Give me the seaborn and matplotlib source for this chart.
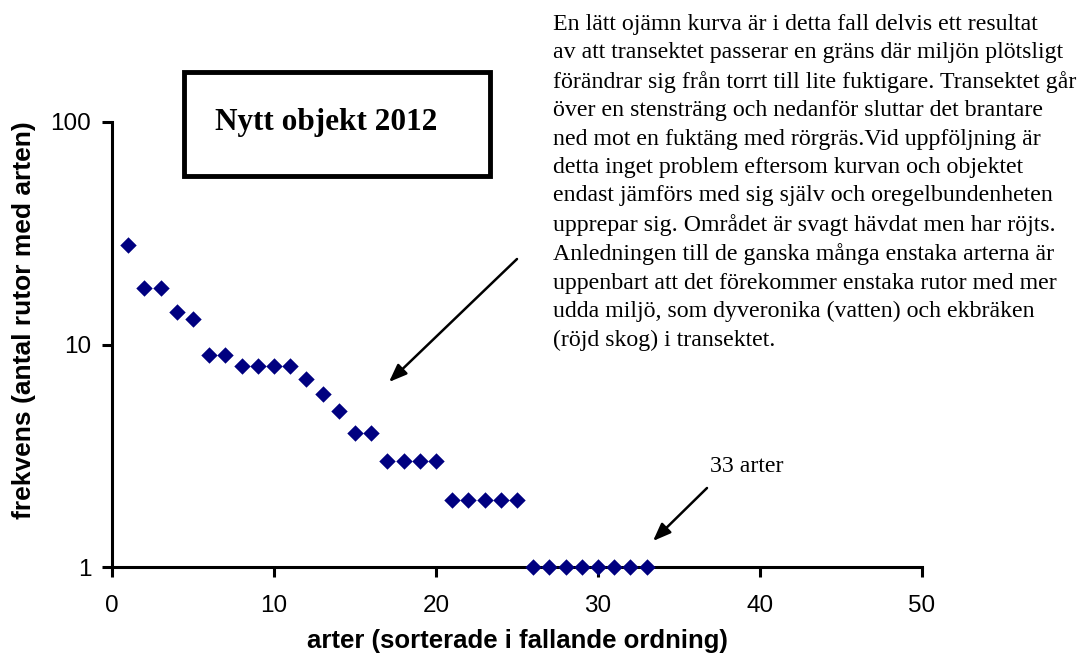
import numpy as np
import pandas as pd
import matplotlib
matplotlib.use("Agg")
import matplotlib.pyplot as plt
import seaborn as sns
from matplotlib.patches import Rectangle

# Frekvens per art, sorterad i fallande ordning
arter = list(range(1, 34))
frekvens = [28, 18, 18, 14, 13, 9, 9, 8, 8, 8, 8, 7, 6, 5, 4, 4,
            3, 3, 3, 3, 2, 2, 2, 2, 2, 1, 1, 1, 1, 1, 1, 1, 1]

x_ticks = [0, 10, 20, 30, 40, 50]
y_ticks = [1, 10, 100]

titel = "Nytt objekt 2012"
kommentar = (
    "En lätt ojämn kurva är i detta fall delvis ett resultat\n"
    "av att transektet passerar en gräns där miljön plötsligt\n"
    "förändrar sig från torrt till lite fuktigare. Transektet går\n"
    "över en stensträng och nedanför sluttar det brantare\n"
    "ned mot en fuktäng med rörgräs.Vid uppföljning är\n"
    "detta inget problem eftersom kurvan och objektet\n"
    "endast jämförs med sig själv och oregelbundenheten\n"
    "upprepar sig. Området är svagt hävdat men har röjts.\n"
    "Anledningen till de ganska många enstaka arterna är\n"
    "uppenbart att det förekommer enstaka rutor med mer\n"
    "udda miljö, som dyveronika (vatten) och ekbräken\n"
    "(röjd skog) i transektet."
)

df = pd.DataFrame({"art": arter, "frekvens": frekvens})

sns.set_theme(style="white")
plt.rcParams["font.family"] = ["Liberation Sans", "DejaVu Sans"]
plt.rcParams["text.color"] = "black"
plt.rcParams["axes.labelcolor"] = "black"

serif = ["Liberation Serif", "DejaVu Serif"]
W, H = 1082, 661

fig = plt.figure(figsize=(10.82, 6.61), dpi=100)
ax = fig.add_axes([112 / W, (H - 567) / H, 810 / W, 445 / H])

sns.scatterplot(data=df, x="art", y="frekvens", marker="D", s=70,
                color="#000080", linewidth=0, ax=ax, clip_on=False, zorder=3)

ax.set_yscale("log")
ax.set_xlim(0, 50)
ax.set_ylim(1, 100)
ax.set_xticks(x_ticks)
ax.set_xticklabels([str(t) for t in x_ticks])
ax.set_yticks(y_ticks)
ax.set_yticklabels([str(t) for t in y_ticks])
ax.minorticks_off()
ax.tick_params(axis="both", direction="out", length=7, width=2.2, labelsize=17.5,
               colors="black", bottom=True, left=True)
ax.tick_params(axis="x", pad=13)
ax.tick_params(axis="y", pad=8)

for side in ["top", "right"]:
    ax.spines[side].set_visible(False)
for side in ["left", "bottom"]:
    ax.spines[side].set_linewidth(2.2)
    ax.spines[side].set_color("black")

ax.set_xlabel("arter (sorterade i fallande ordning)", fontsize=18.5,
              fontweight="bold", labelpad=9)
ax.set_ylabel("frekvens (antal rutor med arten)", fontsize=19,
              fontweight="bold")
# y-etiketten sitter något ovanför mitten i originalet
ax.yaxis.set_label_coords((36 - 112) / 810, (567 - 320) / 445)

# Rubrikruta
fig.patches.append(Rectangle((184 / W, 1 - 176 / H), 306 / W, 104 / H,
                             transform=fig.transFigure, fill=False,
                             edgecolor="black", linewidth=3.5))
fig.text(326 / W, 1 - 130 / H, titel, ha="center", va="baseline",
         fontsize=22.5, fontweight="bold", family=serif)

# Kommentartext
fig.text(553 / W, 1 - 14 / H, kommentar, ha="left", va="top",
         fontsize=17.2, linespacing=1.455, family=serif)

# Pilar
pil = dict(arrowstyle="-|>,head_length=0.9,head_width=0.35", color="black",
           lw=1.8, shrinkA=0, shrinkB=0)
ax.annotate("", xy=(389 / W, 1 - 382 / H), xytext=(517 / W, 1 - 259 / H),
            xycoords="figure fraction", textcoords="figure fraction", arrowprops=pil)
ax.annotate("", xy=(653 / W, 1 - 541 / H), xytext=(707 / W, 1 - 488 / H),
            xycoords="figure fraction", textcoords="figure fraction", arrowprops=pil)
fig.text(747 / W, 1 - 467 / H, "33 arter", ha="center", va="center",
         fontsize=17.2, family=serif)

fig.savefig("out.png", dpi=100)
